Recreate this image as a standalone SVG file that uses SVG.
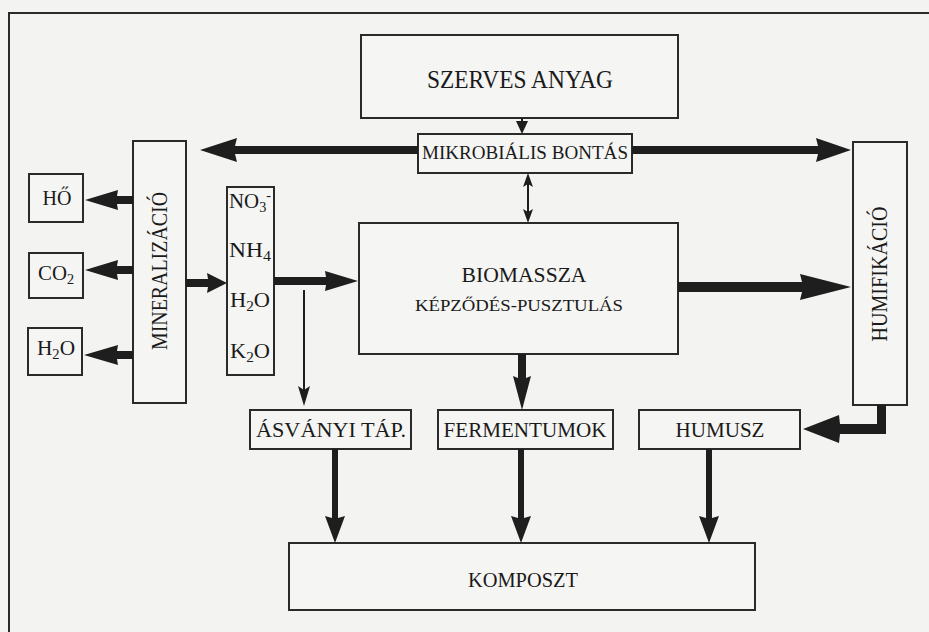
<svg xmlns="http://www.w3.org/2000/svg" width="929" height="632" viewBox="0 0 929 632">
<style>
.bg{fill:#f3f3f1}
.box{fill:#f5f5f3;stroke:#2a2a2a;stroke-width:2}
.t{font-family:"Liberation Serif","Times New Roman",serif;fill:#1a1a1a;text-anchor:middle}
.arr{fill:#1e1e1e}
.thin{stroke:#1e1e1e;stroke-width:2;fill:none}
</style>
<rect class="bg" x="0" y="0" width="929" height="632"/>
<path d="M9,632 V13 H929" fill="none" stroke="#2a2a2a" stroke-width="2"/>

<g id="szerves">
<rect class="box" x="361" y="35" width="317" height="83"/>
<text class="t" x="520" y="88" font-size="26" textLength="186" lengthAdjust="spacingAndGlyphs">SZERVES ANYAG</text>
</g>
<g id="mikro">
<rect class="box" x="418" y="134" width="214" height="39"/>
<text class="t" x="525" y="159" font-size="19" textLength="206" lengthAdjust="spacingAndGlyphs">MIKROBIÁLIS BONTÁS</text>
</g>
<g id="mineral">
<rect class="box" x="133" y="141" width="53" height="262"/>
<text class="t" transform="translate(167,271) rotate(-90)" font-size="24" textLength="158" lengthAdjust="spacingAndGlyphs">MINERALIZÁCIÓ</text>
</g>
<g id="ho">
<rect class="box" x="29" y="174" width="54" height="48"/>
<text class="t" x="57" y="205" font-size="22" textLength="29" lengthAdjust="spacingAndGlyphs">HŐ</text>
</g>
<g id="co2">
<rect class="box" x="29" y="253" width="54" height="45"/>
<text class="t" x="56" y="280" font-size="22" textLength="36" lengthAdjust="spacingAndGlyphs">CO<tspan font-size="15" dy="4">2</tspan></text>
</g>
<g id="h2o">
<rect class="box" x="28" y="328" width="54" height="47"/>
<text class="t" x="56" y="355" font-size="22" textLength="38" lengthAdjust="spacingAndGlyphs">H<tspan font-size="15" dy="4">2</tspan><tspan dy="-4">O</tspan></text>
</g>
<g id="ions">
<rect class="box" x="227" y="187" width="47" height="188"/>
<text class="t" x="250" y="208" font-size="22" textLength="42" lengthAdjust="spacingAndGlyphs">NO<tspan font-size="15" dy="4">3</tspan><tspan font-size="15" dy="-12">-</tspan></text>
<text class="t" x="250" y="257" font-size="22" textLength="42" lengthAdjust="spacingAndGlyphs">NH<tspan font-size="15" dy="4">4</tspan></text>
<text class="t" x="250" y="307" font-size="22" textLength="40" lengthAdjust="spacingAndGlyphs">H<tspan font-size="15" dy="4">2</tspan><tspan dy="-4">O</tspan></text>
<text class="t" x="250" y="358" font-size="22" textLength="40" lengthAdjust="spacingAndGlyphs">K<tspan font-size="15" dy="4">2</tspan><tspan dy="-4">O</tspan></text>
</g>
<g id="biomassza">
<rect class="box" x="359" y="223" width="319" height="131"/>
<text class="t" x="524" y="282" font-size="22" textLength="125" lengthAdjust="spacingAndGlyphs">BIOMASSZA</text>
<text class="t" x="519" y="311" font-size="17" textLength="208" lengthAdjust="spacingAndGlyphs">KÉPZŐDÉS-PUSZTULÁS</text>
</g>
<g id="humifikacio">
<rect class="box" x="853" y="142" width="54" height="263"/>
<text class="t" transform="translate(887,274) rotate(-90)" font-size="23" textLength="135" lengthAdjust="spacingAndGlyphs">HUMIFIKÁCIÓ</text>
</g>
<g id="asvanyi">
<rect class="box" x="250" y="410" width="161" height="39"/>
<text class="t" x="331" y="437" font-size="21" textLength="150" lengthAdjust="spacingAndGlyphs">ÁSVÁNYI TÁP.</text>
</g>
<g id="fermentumok">
<rect class="box" x="438" y="410" width="175" height="39"/>
<text class="t" x="525" y="437" font-size="21" textLength="163" lengthAdjust="spacingAndGlyphs">FERMENTUMOK</text>
</g>
<g id="humusz">
<rect class="box" x="639" y="410" width="161" height="39"/>
<text class="t" x="720" y="437" font-size="21" textLength="89" lengthAdjust="spacingAndGlyphs">HUMUSZ</text>
</g>
<g id="komposzt">
<rect class="box" x="289" y="543" width="466" height="67"/>
<text class="t" x="523" y="587" font-size="22" textLength="110" lengthAdjust="spacingAndGlyphs">KOMPOSZT</text>
</g>

<g id="connectors">
<line class="thin" x1="522" y1="118" x2="522" y2="126"/>
<polygon class="arr" points="516,121 528,121 522,134"/>
<line class="thin" x1="528" y1="180" x2="528" y2="216"/>
<polygon class="arr" points="528,173 523,187 528,184 533,187"/>
<polygon class="arr" points="528,223 523,209 528,212 533,209"/>
<polygon class="arr" points="418,146 235,146 237,138 200,150 237,162 235,154 418,154"/>
<polygon class="arr" points="632,146 818,146 816,138 851,150 816,162 818,154 632,154"/>
<polygon class="arr" points="133,196 117,196 118,190 85,200 118,210 117,204 133,204"/>
<polygon class="arr" points="133,266 117,266 118,260 85,270 118,280 117,274 133,274"/>
<polygon class="arr" points="133,351 117,351 118,345 84,355 118,365 117,359 133,359"/>
<polygon class="arr" points="186,279 208,279 207,273 227,283 207,293 208,287 186,287"/>
<polygon class="arr" points="274,277 326,277 325,271 358,281 325,291 326,285 274,285"/>
<line class="thin" x1="304" y1="290" x2="304" y2="392"/>
<polygon class="arr" points="298,386 304,390 310,386 304,406"/>
<polygon class="arr" points="678,282 802,282 800,274 851,287 800,300 802,292 678,292"/>
<polygon class="arr" points="518,354 518,378 513,376 522,410 531,376 526,378 526,354"/>
<polygon class="arr" points="877,405 877,424 840,424 839,415 803,429 839,443 840,434 886,434 886,405"/>
<polygon class="arr" points="332,449 332,518 325,516 335,543 345,516 338,518 338,449"/>
<polygon class="arr" points="518,449 518,518 511,516 521,543 531,516 524,518 524,449"/>
<polygon class="arr" points="706,449 706,518 699,516 709,543 719,516 712,518 712,449"/>
</g>
</svg>
